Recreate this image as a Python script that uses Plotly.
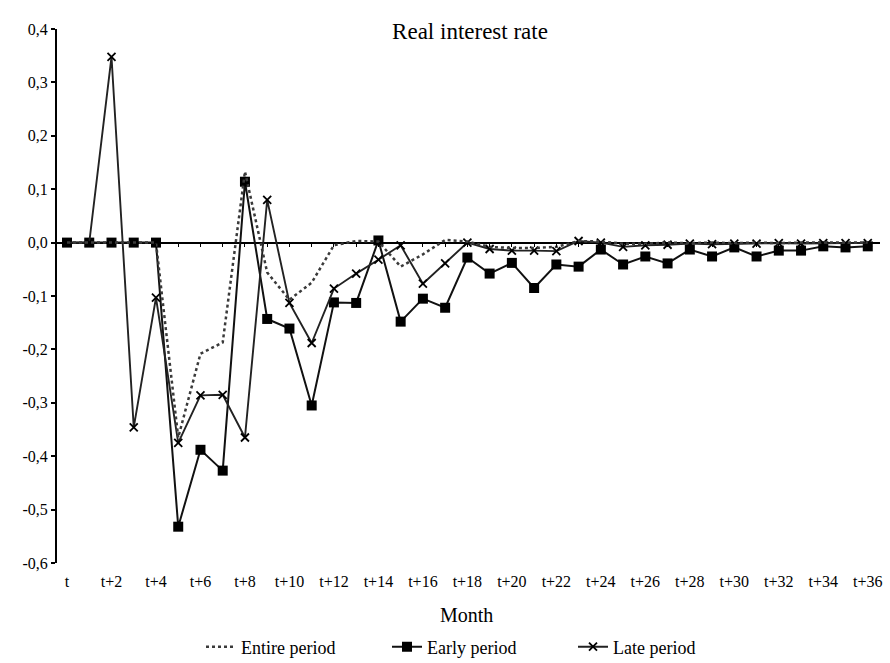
import plotly.graph_objects as go

months = list(range(37))
month_labels = ["t" if m == 0 else f"t+{m}" for m in months]
tick_months = months[::2]
tick_labels = month_labels[::2]

entire = [0, 0, 0, 0, 0, -0.365, -0.208, -0.187, 0.133, -0.056, -0.107, -0.075, -0.005,
          0.003, 0.002, -0.045, -0.022, 0.005, 0.002, -0.008, -0.010, -0.010, -0.008, 0.003,
          0.002, -0.002, -0.002, 0.000, -0.001, 0.000, -0.001, 0.000, -0.001, 0.000, 0.000,
          0.000, 0.000]
early = [0, 0, 0, 0, 0, -0.532, -0.388, -0.427, 0.114, -0.143, -0.161, -0.305, -0.112,
         -0.113, 0.004, -0.148, -0.105, -0.122, -0.028, -0.058, -0.038, -0.085, -0.041, -0.045,
         -0.013, -0.041, -0.026, -0.039, -0.013, -0.026, -0.009, -0.026, -0.015, -0.015, -0.007,
         -0.009, -0.007]
late = [0, 0, 0.348, -0.346, -0.103, -0.375, -0.286, -0.285, -0.365, 0.080, -0.113, -0.188, -0.086,
        -0.058, -0.032, -0.005, -0.077, -0.039, 0.000, -0.012, -0.015, -0.015, -0.016, 0.003,
        0.000, -0.008, -0.005, -0.004, -0.002, -0.003, -0.002, -0.002, -0.001, -0.002, -0.001,
        -0.001, -0.001]

y_tick_vals = [0.4, 0.3, 0.2, 0.1, 0.0, -0.1, -0.2, -0.3, -0.4, -0.5, -0.6]
y_tick_text = ["0,4", "0,3", "0,2", "0,1", "0,0", "-0,1", "-0,2", "-0,3", "-0,4", "-0,5", "-0,6"]

FONT = "Liberation Serif"

fig = go.Figure()
fig.add_trace(go.Scatter(
    x=months, y=entire, name="Entire period", mode="lines",
    line=dict(color="#3a3a3a", width=2.5, dash="dot"),
    xaxis="x2", yaxis="y"))
fig.add_trace(go.Scatter(
    x=months, y=early, name="Early period", mode="lines+markers",
    line=dict(color="#111111", width=2),
    marker=dict(symbol="square", size=10, color="#000000")))
fig.add_trace(go.Scatter(
    x=months, y=late, name="Late period", mode="lines+markers",
    line=dict(color="#222222", width=1.9),
    marker=dict(symbol="x-thin", size=8, color="#000000",
                line=dict(width=1.8, color="#000000"))))

fig.update_layout(
    width=890, height=663,
    margin=dict(l=57, r=10, t=29, b=100),
    paper_bgcolor="white", plot_bgcolor="white",
    font=dict(family=FONT, color="#000000", size=15),
    title=dict(text="Real interest rate", x=470 / 890, xref="container", y=1 - 31 / 663,
               yref="container", yanchor="middle", xanchor="center",
               font=dict(family=FONT, size=23, color="#000000")),
    xaxis=dict(range=[-0.45, 36.55], tickvals=tick_months, ticktext=tick_labels,
               showgrid=False, zeroline=False, showline=False, ticks="",
               tickfont=dict(family=FONT, size=16), ticklabelstandoff=7,
               automargin=False),
    xaxis2=dict(matches="x", overlaying="x", anchor="free", position=0.6, side="bottom",
                showgrid=False, zeroline=False, showline=False, showticklabels=False,
                ticks="outside", ticklen=3, tickwidth=1, tickcolor="#000000",
                tickmode="linear", tick0=0, dtick=1),
    yaxis=dict(range=[-0.6, 0.4], tickvals=y_tick_vals, ticktext=y_tick_text,
               showgrid=False, showline=True, linecolor="#000000", linewidth=2,
               ticks="outside", ticklen=4, tickwidth=1.5, tickcolor="#000000",
               zeroline=True, zerolinecolor="#000000", zerolinewidth=1.5,
               tickfont=dict(family=FONT, size=16), automargin=False),
    legend=dict(orientation="h", xref="container", yref="container",
                x=480 / 890, xanchor="center", y=1 - 647 / 663, yanchor="middle",
                font=dict(family=FONT, size=18), entrywidth=141, itemwidth=30,
                bgcolor="rgba(0,0,0,0)"),
    annotations=[dict(text="Month", xref="paper", yref="paper", x=(466 - 57) / (880 - 57),
                      y=-(615 - 563) / (563 - 29), xanchor="center", yanchor="middle",
                      showarrow=False, font=dict(family=FONT, size=20, color="#000000"))],
    showlegend=True,
)

fig.write_html("out.html")
